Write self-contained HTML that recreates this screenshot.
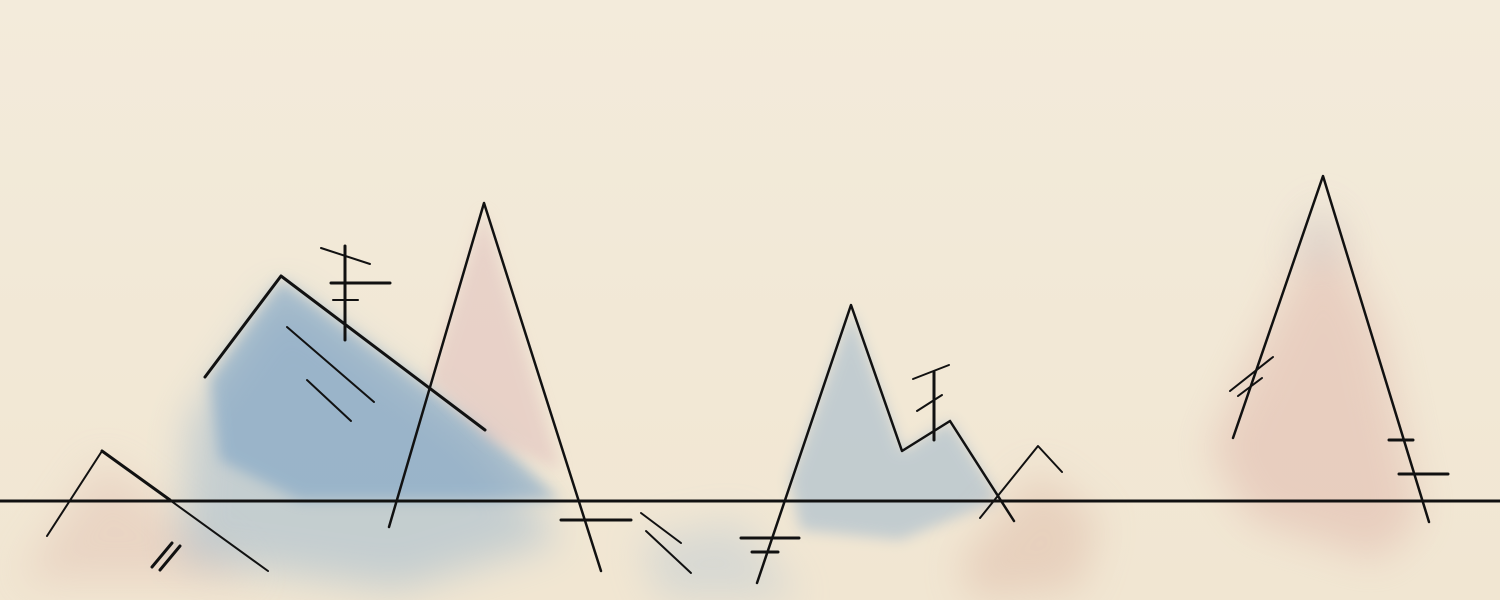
<!DOCTYPE html>
<html><head><meta charset="utf-8"><style>
html,body{margin:0;padding:0;background:#f2e9d8;}
svg{display:block}
</style></head><body>
<svg width="1500" height="600" viewBox="0 0 1500 600" xmlns="http://www.w3.org/2000/svg">
<defs>
<filter id="b1" x="-50%" y="-50%" width="200%" height="200%"><feGaussianBlur stdDeviation="20"/></filter>
<filter id="b2" x="-50%" y="-50%" width="200%" height="200%"><feGaussianBlur stdDeviation="7"/></filter>
<linearGradient id="bg" x1="0" y1="0" x2="0" y2="1"><stop offset="0" stop-color="#f3ebdb"/><stop offset="1" stop-color="#f1e6d2"/></linearGradient>
</defs>
<rect width="1500" height="600" fill="url(#bg)"/>
<g>
<polygon points="20,580 102,460 260,580" fill="#dbb4a8" opacity="0.35" filter="url(#b1)"/>
<polygon points="180,560 190,420 281,290 480,440 560,540 400,590" fill="#8fb0cc" opacity="0.45" filter="url(#b1)"/>
<polygon points="210,380 281,280 485,430 560,500 300,500 220,460" fill="#6f9bc3" opacity="0.5" filter="url(#b2)"/>
<polygon points="430,380 484,210 560,470 490,440" fill="#e0c0bd" opacity="0.55" filter="url(#b2)"/>
<polygon points="640,540 740,520 800,600 660,600" fill="#a9c0d4" opacity="0.35" filter="url(#b1)"/>
<polygon points="790,480 851,310 902,451 950,421 1000,500 900,540 800,530" fill="#8aaccb" opacity="0.45" filter="url(#b2)"/>
<polygon points="960,560 1038,470 1100,520 1080,590 970,600" fill="#d6a997" opacity="0.35" filter="url(#b1)"/>
<polygon points="1210,450 1323,210 1380,330 1420,520 1380,560 1250,520" fill="#ddb0a6" opacity="0.45" filter="url(#b1)"/>
<polygon points="1290,260 1323,200 1345,260" fill="#b8c3d0" opacity="0.35" filter="url(#b1)"/>
</g>
<g stroke="#111" fill="none" stroke-linecap="round" stroke-linejoin="round">
<line x1="0" y1="501" x2="1500" y2="501" stroke-width="3"/>
<polyline points="47,536 102,451 268,571" stroke-width="2"/>
<line x1="102" y1="451" x2="170" y2="500" stroke-width="3"/>
<line x1="152" y1="567" x2="172" y2="543" stroke-width="3"/>
<line x1="160" y1="570" x2="180" y2="546" stroke-width="3"/>
<polyline points="205,377 281,276 485,430" stroke-width="3"/>
<line x1="287" y1="327" x2="374" y2="402" stroke-width="2"/>
<line x1="307" y1="380" x2="351" y2="421" stroke-width="2"/>
<line x1="345" y1="246" x2="345" y2="340" stroke-width="3"/>
<line x1="321" y1="248" x2="370" y2="264" stroke-width="2"/>
<line x1="331" y1="283" x2="390" y2="283" stroke-width="3"/>
<line x1="333" y1="300" x2="358" y2="300" stroke-width="2"/>
<polyline points="389,527 484,203 601,571" stroke-width="2.5"/>
<line x1="561" y1="520" x2="631" y2="520" stroke-width="3"/>
<line x1="641" y1="513" x2="681" y2="543" stroke-width="2"/>
<line x1="646" y1="531" x2="691" y2="573" stroke-width="2"/>
<polyline points="757,583 851,305 902,451 950,421 1014,521" stroke-width="2.5"/>
<line x1="741" y1="538" x2="799" y2="538" stroke-width="3"/>
<line x1="752" y1="552" x2="778" y2="552" stroke-width="3"/>
<line x1="934" y1="372" x2="934" y2="440" stroke-width="3"/>
<line x1="913" y1="379" x2="949" y2="365" stroke-width="2"/>
<line x1="917" y1="411" x2="942" y2="395" stroke-width="2"/>
<polyline points="980,518 1038,446 1062,472" stroke-width="2"/>
<polyline points="1233,438 1323,176 1429,522" stroke-width="2.5"/>
<line x1="1230" y1="391" x2="1273" y2="357" stroke-width="2"/>
<line x1="1238" y1="396" x2="1262" y2="378" stroke-width="2"/>
<line x1="1389" y1="440" x2="1413" y2="440" stroke-width="3"/>
<line x1="1399" y1="474" x2="1448" y2="474" stroke-width="3"/>
</g>
</svg>
</body></html>
